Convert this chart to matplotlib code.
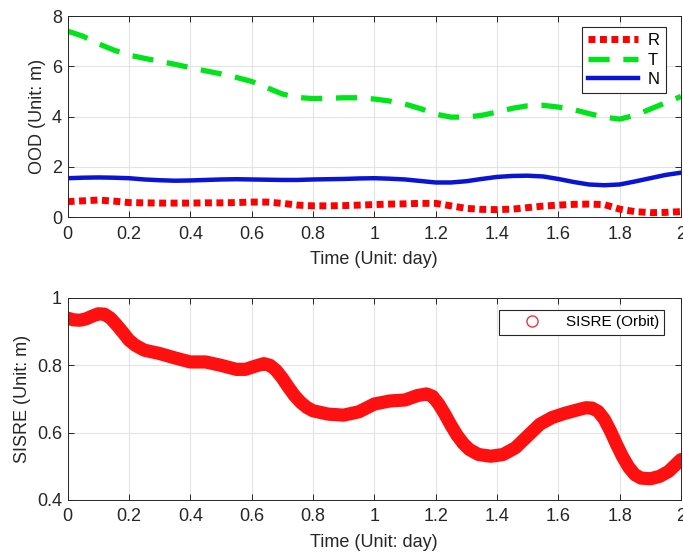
import matplotlib
matplotlib.use("Agg")
import matplotlib.pyplot as plt
from matplotlib.lines import Line2D

# OOD components (m) vs time (day)
t_ood = [0.0, 0.05, 0.1, 0.15, 0.2, 0.25, 0.3, 0.35, 0.4, 0.45, 0.5, 0.55,
         0.6, 0.65, 0.7, 0.75, 0.8, 0.85, 0.9, 0.95, 1.0, 1.05, 1.1, 1.15,
         1.2, 1.25, 1.3, 1.35, 1.4, 1.45, 1.5, 1.55, 1.6, 1.65, 1.7, 1.75,
         1.8, 1.85, 1.9, 1.95, 2.0]
ood_r = [0.62, 0.65, 0.68, 0.64, 0.58, 0.57, 0.56, 0.56, 0.56, 0.57, 0.57,
         0.58, 0.6, 0.6, 0.55, 0.48, 0.45, 0.45, 0.46, 0.48, 0.5, 0.52, 0.53,
         0.55, 0.55, 0.45, 0.35, 0.31, 0.3, 0.32, 0.38, 0.44, 0.48, 0.51,
         0.52, 0.5, 0.32, 0.22, 0.18, 0.19, 0.22]
ood_t = [7.4, 7.2, 6.9, 6.65, 6.45, 6.32, 6.2, 6.08, 5.95, 5.82, 5.7, 5.56,
         5.4, 5.15, 4.9, 4.76, 4.72, 4.73, 4.75, 4.75, 4.7, 4.62, 4.5, 4.32,
         4.1, 3.98, 3.98, 4.05, 4.18, 4.33, 4.43, 4.45, 4.38, 4.28, 4.12,
         3.98, 3.9, 4.05, 4.3, 4.55, 4.8]
ood_n = [1.55, 1.57, 1.58, 1.57, 1.55, 1.5, 1.47, 1.45, 1.46, 1.48, 1.5,
         1.51, 1.5, 1.49, 1.48, 1.48, 1.5, 1.51, 1.52, 1.54, 1.55, 1.53, 1.5,
         1.44, 1.38, 1.38, 1.43, 1.52, 1.6, 1.64, 1.65, 1.62, 1.52, 1.4,
         1.3, 1.27, 1.3, 1.42, 1.55, 1.68, 1.77]

# SISRE (orbit only), m
t_sis = [0.0, 0.02, 0.04, 0.06, 0.08, 0.1, 0.12, 0.14, 0.16, 0.18,
         0.2, 0.22, 0.25, 0.3, 0.35, 0.4, 0.45, 0.5, 0.55, 0.58,
         0.61, 0.64, 0.66, 0.68, 0.7, 0.72, 0.74, 0.76, 0.78, 0.8,
         0.85, 0.9, 0.95, 1.0, 1.05, 1.1, 1.14, 1.17, 1.19, 1.21,
         1.23, 1.25, 1.27, 1.29, 1.31, 1.34, 1.38, 1.42, 1.46, 1.5,
         1.54, 1.58, 1.62, 1.66, 1.69, 1.71, 1.73, 1.75, 1.77, 1.79,
         1.81, 1.83, 1.85, 1.87, 1.9, 1.93, 1.96, 2.0]
sisre = [0.94, 0.935, 0.934, 0.938, 0.946, 0.953, 0.952, 0.94, 0.92, 0.898,
         0.875, 0.86, 0.845, 0.835, 0.822, 0.81, 0.81, 0.8, 0.788, 0.788,
         0.797, 0.805, 0.8, 0.785, 0.762, 0.735, 0.71, 0.69, 0.675, 0.665,
         0.655, 0.652, 0.662, 0.685, 0.694, 0.697, 0.71, 0.715, 0.708, 0.685,
         0.655, 0.622, 0.592, 0.568, 0.55, 0.535, 0.53, 0.535, 0.555, 0.59,
         0.625, 0.645, 0.657, 0.667, 0.674, 0.673, 0.663, 0.64, 0.605, 0.565,
         0.528, 0.497, 0.475, 0.465, 0.463, 0.47, 0.485, 0.52]

xticks = [0, 0.2, 0.4, 0.6, 0.8, 1, 1.2, 1.4, 1.6, 1.8, 2]
xticklabels = ["0", "0.2", "0.4", "0.6", "0.8", "1", "1.2", "1.4", "1.6",
               "1.8", "2"]

plt.rcParams["font.family"] = ["Liberation Sans", "DejaVu Sans"]
plt.rcParams["font.size"] = 13
plt.rcParams["lines.solid_joinstyle"] = "round"
plt.rcParams["lines.dash_joinstyle"] = "round"
txt = "#262626"

fig = plt.figure(figsize=(6.83, 5.54), dpi=100)
ax1 = fig.add_axes([0.099, 0.608, 0.898, 0.363])
ax2 = fig.add_axes([0.099, 0.0975, 0.898, 0.3646])


def style(ax):
    ax.set_xlim(0, 2)
    ax.set_xticks(xticks)
    ax.set_xticklabels(xticklabels)
    ax.grid(True, color="#e3e3e3", linewidth=0.8)
    ax.set_axisbelow(True)
    ax.tick_params(direction="in", top=True, right=True, colors=txt,
                   labelcolor=txt, length=4, width=0.7, labelsize=13)
    ax.tick_params(axis="x", pad=6)
    ax.tick_params(axis="y", pad=4)
    for s in ax.spines.values():
        s.set_color(txt)
        s.set_linewidth(0.7)
    ax.set_xlabel("Time (Unit: day)", color=txt, fontsize=13, labelpad=6)


ax1.plot(t_ood, ood_r, color="#ff0000", linewidth=5, linestyle=(0, (1, 0.65)),
         label="R")
ax1.plot(t_ood, ood_t, color="#00e51a", linewidth=3.8,
         linestyle=(0, (4, 2.6)), label="T")
ax1.plot(t_ood, ood_n, color="#0a14d6", linewidth=3.2, label="N")
style(ax1)
ax1.set_ylim(0, 8)
ax1.set_yticks([0, 2, 4, 6, 8])
ax1.set_ylabel("OOD (Unit: m)", color=txt, fontsize=13, labelpad=4)
leg1 = ax1.legend(loc="upper right", bbox_to_anchor=(0.975, 0.945),
                  borderaxespad=0, fontsize=12, handlelength=3.0,
                  handletextpad=0.6, borderpad=0.35, labelspacing=0.28,
                  fancybox=False, framealpha=1, edgecolor=txt)
leg1.get_frame().set_linewidth(0.8)

ax2.plot(t_sis, sisre, color="#ff1010", linewidth=9.5, solid_capstyle="round")
style(ax2)
ax2.set_ylim(0.4, 1.0)
ax2.set_yticks([0.4, 0.6, 0.8, 1.0])
ax2.set_yticklabels(["0.4", "0.6", "0.8", "1"])
ax2.set_ylabel("SISRE (Unit: m)", color=txt, fontsize=13, labelpad=4)
h = Line2D([], [], linestyle="none", marker="o", markersize=8,
           markerfacecolor="none", markeredgecolor="#ee3344",
           markeredgewidth=1.0)
leg2 = ax2.legend([h], ["SISRE (Orbit)"], loc="upper right",
                  bbox_to_anchor=(0.973, 0.94), borderaxespad=0,
                  fontsize=11, handlelength=3.7, handletextpad=0.35,
                  borderpad=0.35, fancybox=False, framealpha=1, edgecolor=txt)
leg2.get_frame().set_linewidth(0.8)

fig.savefig("out.png", dpi=100)
